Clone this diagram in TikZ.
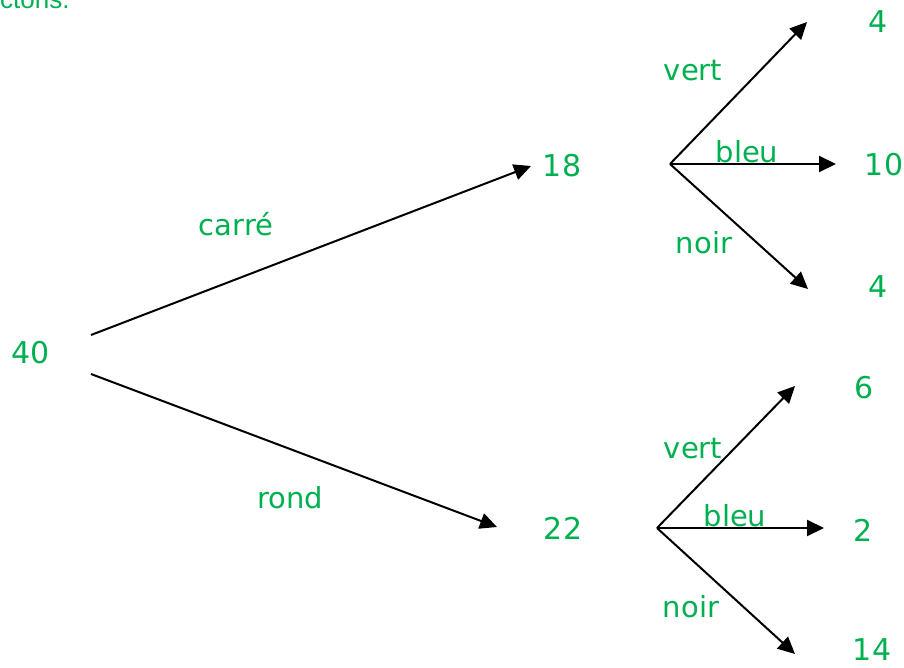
\documentclass[tikz,border=0pt]{standalone}
\usepackage{fontspec}
\setmainfont{DejaVu Sans}
\newfontfamily\topfont{Liberation Sans}
\usetikzlibrary{arrows.meta}
\definecolor{treegreen}{RGB}{0,176,80}
\tikzset{
  num/.style={text=treegreen, font=\fontsize{30}{33}\selectfont, inner sep=0pt},
  lab/.style={text=treegreen, font=\fontsize{29}{32}\selectfont, inner sep=0pt},
  branch/.style={draw=black, line width=2pt, -{Triangle[length=17pt,width=16pt]}}
}
\begin{document}
\begin{tikzpicture}[x=1pt,y=-1pt]
\useasboundingbox (0,0) rectangle (904,668);
% header text, cut at the top edge as in the reference
\node[text=treegreen, font=\topfont\fontsize{26}{28}\selectfont, anchor=base west, inner sep=0pt] (hdr) at (0,9) {ctons.};
% numbers
\node[num] (n40) at (31,353) {40};
\node[num] (n18) at (562,166) {18};
\node[num] (n22) at (563,528) {22};
\node[num] (a4) at (878,22) {4};
\node[num] (a10) at (884,165) {10};
\node[num] (a4b) at (878,287) {4};
\node[num] (b6) at (864,388) {6};
\node[num] (b2) at (863,530) {2};
\node[num] (b14) at (872,650) {14};
% labels
\node[lab] (lcarre) at (236,224) {carré};
\node[lab] (lrond) at (290,498) {rond};
\node[lab] (lv1) at (693,71) {vert};
\node[lab] (lb1) at (747,152) {bleu};
\node[lab] (ln1) at (704,243) {noir};
\node[lab] (lv2) at (693,449) {vert};
\node[lab] (lb2) at (735,516) {bleu};
\node[lab] (ln2) at (691,607) {noir};
% connector end points
\coordinate (s1) at (91,335);
\coordinate (t1) at (531,166);
\coordinate (s2) at (91,374);
\coordinate (t2) at (497,527);
\coordinate (o1) at (670,164);
\coordinate (o1v) at (807,22);
\coordinate (o1b) at (836,164);
\coordinate (o1n) at (808,289);
\coordinate (o2) at (657,528);
\coordinate (o2v) at (795,386);
\coordinate (o2b) at (824,528);
\coordinate (o2n) at (795,654);
% connectors
\draw[branch] (s1) -- (t1);
\draw[branch] (s2) -- (t2);
\draw[branch] (o1) -- (o1v);
\draw[branch] (o1) -- (o1b);
\draw[branch] (o1) -- (o1n);
\draw[branch] (o2) -- (o2v);
\draw[branch] (o2) -- (o2b);
\draw[branch] (o2) -- (o2n);
\end{tikzpicture}
\end{document}
